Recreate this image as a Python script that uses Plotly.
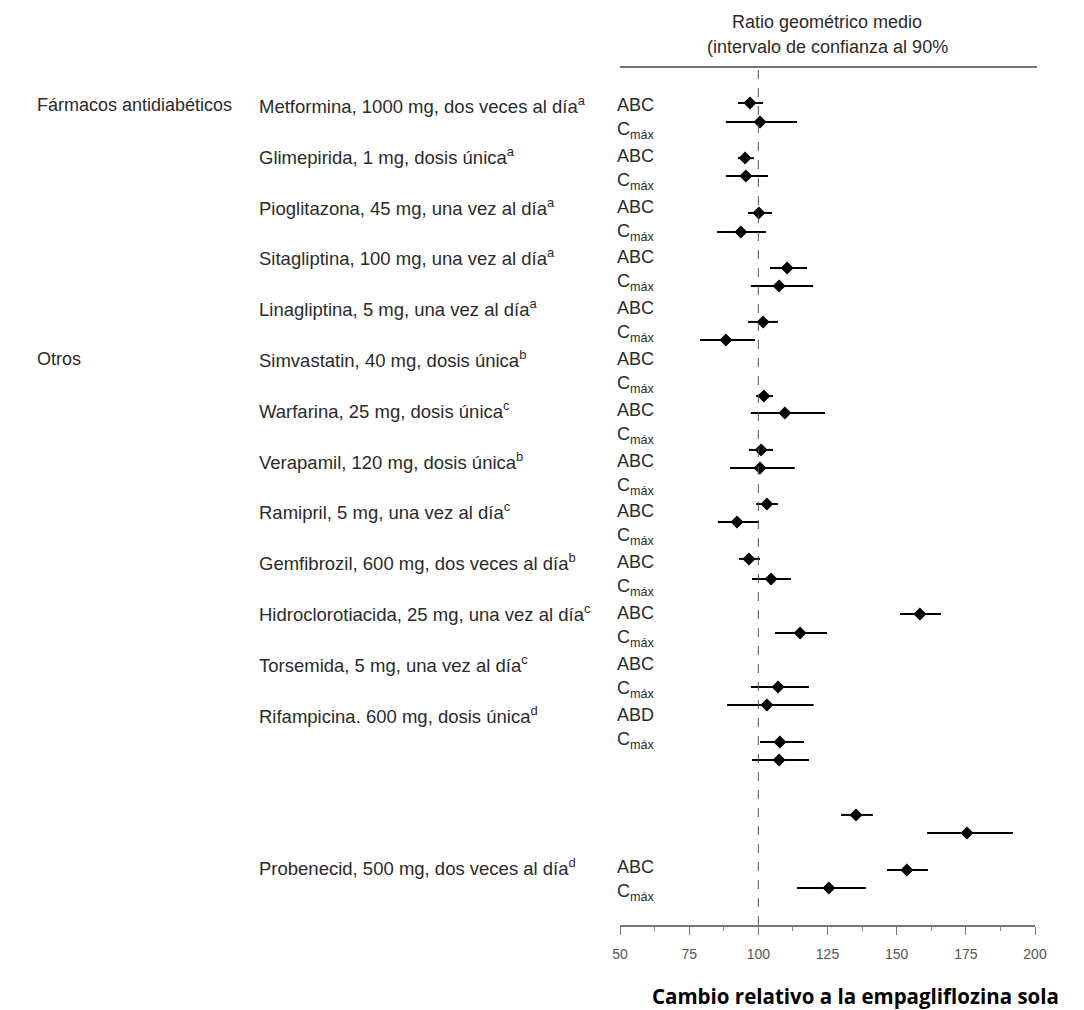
import plotly.graph_objects as go

# ---------------- data ----------------
groups = ["Fármacos antidiabéticos", "Otros"]
group_rows = [0, 10]

drugs = [
    "Metformina, 1000 mg, dos veces al día",
    "Glimepirida, 1 mg, dosis única",
    "Pioglitazona, 45 mg, una vez al día",
    "Sitagliptina, 100 mg, una vez al día",
    "Linagliptina, 5 mg, una vez al día",
    "Simvastatin, 40 mg, dosis única",
    "Warfarina, 25 mg, dosis única",
    "Verapamil, 120 mg, dosis única",
    "Ramipril, 5 mg, una vez al día",
    "Gemfibrozil, 600 mg, dos veces al día",
    "Hidroclorotiacida, 25 mg, una vez al día",
    "Torsemida, 5 mg, una vez al día",
    "Rifampicina. 600 mg, dosis única",
    "Probenecid, 500 mg, dos veces al día",
]
footnotes = ["a", "a", "a", "a", "a", "b", "c", "b", "c", "b", "c", "c", "d", "d"]
drug_rows = [0, 2, 4, 6, 8, 10, 12, 14, 16, 18, 20, 22, 24, 30]
param_first = ["ABC"] * 12 + ["ABD", "ABC"]
param_second = "C<sub>máx</sub>"

# geometric mean ratio (%) with 90% CI, in the order drawn (top to bottom)
ratio = [97.0, 100.6, 95.2, 95.5, 100.2, 93.7, 110.4, 107.5, 101.7, 88.3,
         102.0, 109.6, 101.0, 100.6, 103.1, 92.3, 96.6, 104.6, 158.4, 115.1,
         107.1, 103.1, 107.8, 107.5, 135.3, 175.4, 153.7, 125.5]
ci_low = [92.6, 88.3, 92.6, 88.3, 96.3, 85.1, 104.2, 97.3, 96.3, 78.9,
          99.2, 97.3, 96.6, 89.8, 99.2, 85.4, 93.0, 97.7, 151.2, 106.0,
          97.3, 88.7, 100.6, 97.7, 129.9, 161.0, 146.5, 114.0]
ci_high = [101.7, 114.0, 98.4, 103.5, 104.9, 102.8, 117.6, 119.8, 107.1, 98.8,
           105.3, 124.1, 105.3, 113.2, 107.1, 100.2, 100.6, 111.8, 166.0, 124.8,
           118.3, 120.0, 116.5, 118.3, 141.4, 192.0, 161.3, 138.9]
# row position (in label-row units) where each estimate is drawn
marker_rows = [-0.08, 0.67, 2.09, 2.80, 4.25, 5.00, 6.42, 7.13, 8.54, 9.25,
               11.46, 12.13, 13.58, 14.29, 15.71, 16.42, 17.87, 18.66, 20.04, 20.79,
               22.91, 23.62, 25.08, 25.79, 27.95, 28.66, 30.12, 30.83]

x_ticks = [50, 75, 100, 125, 150, 175, 200]
header = ["Ratio geométrico medio", "(intervalo de confianza al 90%"]
x_title = "Cambio relativo a la empagliflozina sola"

# ---------------- layout helpers ----------------
W, H = 1084, 1010
L, R, T, B = 620, 49, 67, 85
plot_w = W - L - R
plot_h = H - T - B
ROW0_PX, ROW_PX = 105, 25.4


def px_x(px):
    return (px - L) / plot_w


def px_y(py):
    return (H - B - py) / plot_h


y_top = (T - ROW0_PX) / ROW_PX
y_bot = (H - B - ROW0_PX) / ROW_PX

FONT = "Liberation Sans, Arial, Helvetica, sans-serif"
NARROW = "Liberation Sans Narrow, Arial Narrow, Liberation Sans, Arial, sans-serif"
TXT = "#2b2b2b"

fig = go.Figure()
fig.add_trace(go.Scatter(
    x=ratio, y=marker_rows, mode="markers",
    marker=dict(symbol="diamond", size=10, color="black"),
    error_x=dict(type="data", symmetric=False,
                 array=[h - r for h, r in zip(ci_high, ratio)],
                 arrayminus=[r - l for r, l in zip(ratio, ci_low)],
                 color="black", thickness=2, width=0),
    showlegend=False, hoverinfo="x",
))

ann = []
for g, r in zip(groups, group_rows):
    ann.append(dict(x=px_x(35), y=r, xref="paper", yref="y", text=g,
                    xanchor="left", yanchor="middle", showarrow=False,
                    font=dict(family=FONT, size=18, color=TXT)))
for d, fn, r, p1 in zip(drugs, footnotes, drug_rows, param_first):
    ann.append(dict(x=px_x(257), y=r, xref="paper", yref="y",
                    text=f"{d}<sup>{fn}</sup>",
                    xanchor="left", yanchor="middle", showarrow=False,
                    font=dict(family=FONT, size=18.5, color=TXT)))
    ann.append(dict(x=px_x(615), y=r, xref="paper", yref="y", text=p1,
                    xanchor="left", yanchor="middle", showarrow=False,
                    font=dict(family=FONT, size=18, color=TXT)))
    ann.append(dict(x=px_x(615), y=r + 1, xref="paper", yref="y", text=param_second,
                    xanchor="left", yanchor="middle", showarrow=False,
                    font=dict(family=FONT, size=18, color=TXT)))
for txt, py in zip(header, [22, 47]):
    ann.append(dict(x=px_x(827), y=px_y(py), xref="paper", yref="paper", text=txt,
                    xanchor="center", yanchor="middle", showarrow=False,
                    font=dict(family=FONT, size=18, color=TXT)))
ann.append(dict(x=px_x(855), y=px_y(996), xref="paper", yref="paper", text=f"<b>{x_title}</b>",
                xanchor="center", yanchor="middle", showarrow=False,
                font=dict(family="Open Sans, Liberation Sans, sans-serif", size=20.5, color="black")))

shapes = [
    dict(type="line", xref="paper", yref="paper", x0=0, x1=px_x(1037), y0=1, y1=1,
         line=dict(color="#444", width=1.5)),
    dict(type="line", xref="x", yref="paper", x0=100, x1=100, y0=0, y1=1,
         line=dict(color="#555", width=1, dash="dash")),
]

fig.update_layout(
    width=W, height=H,
    margin=dict(l=L, r=R, t=T, b=B),
    paper_bgcolor="white", plot_bgcolor="white",
    annotations=ann, shapes=shapes,
    xaxis=dict(range=[50, 200], tickvals=x_ticks, showgrid=False, zeroline=False,
               showline=True, linecolor="#777", linewidth=1.5,
               ticks="outside", ticklen=8, tickcolor="#777", tickwidth=1,
               ticklabelstandoff=7,
               tickfont=dict(family=NARROW, size=14, color="#555"),
               minor=dict(dtick=12.5, tick0=50, ticks="outside", ticklen=4,
                          tickcolor="#888", showgrid=False)),
    yaxis=dict(range=[y_bot, y_top], visible=False, showgrid=False, zeroline=False),
)

fig.write_html("out.html", config={"displayModeBar": False},
               post_script="document.body.style.margin='0';document.body.style.overflow='hidden';")
